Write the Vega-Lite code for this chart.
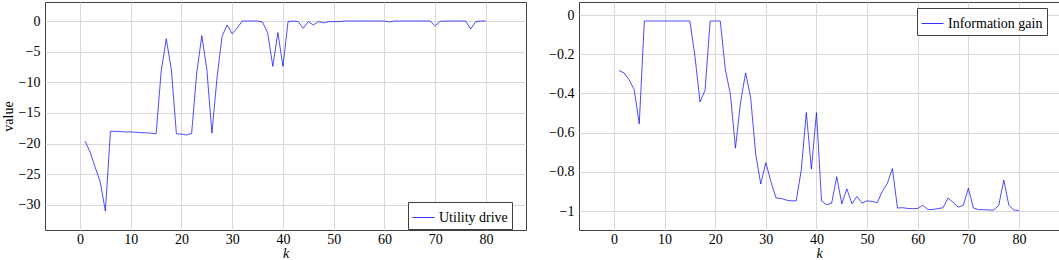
{
  "$schema": "https://vega.github.io/schema/vega-lite/v6.json",
  "padding": {"left": 0, "top": 1, "right": 1, "bottom": 0},
  "datasets": {
    "utility": [
      {"k":1,"value":-19.6},{"k":2,"value":-21.4},{"k":3,"value":-23.9},{"k":4,"value":-26.3},{"k":5,"value":-31.0},
      {"k":6,"value":-18.0},{"k":7,"value":-18.0},{"k":8,"value":-18.05},{"k":9,"value":-18.1},{"k":10,"value":-18.1},
      {"k":11,"value":-18.15},{"k":12,"value":-18.2},{"k":13,"value":-18.25},{"k":14,"value":-18.3},{"k":15,"value":-18.4},
      {"k":16,"value":-8.2},{"k":17,"value":-2.9},{"k":18,"value":-7.9},{"k":19,"value":-18.4},{"k":20,"value":-18.45},
      {"k":21,"value":-18.6},{"k":22,"value":-18.35},{"k":23,"value":-8.5},{"k":24,"value":-2.4},{"k":25,"value":-7.9},
      {"k":26,"value":-18.3},{"k":27,"value":-9.3},{"k":28,"value":-2.5},{"k":29,"value":-0.65},{"k":30,"value":-2.1},
      {"k":31,"value":-1.1},{"k":32,"value":0},{"k":33,"value":0},{"k":34,"value":0},{"k":35,"value":0},
      {"k":36,"value":-0.2},{"k":37,"value":-2.0},{"k":38,"value":-7.4},{"k":39,"value":-1.9},{"k":40,"value":-7.4},
      {"k":41,"value":-0.1},{"k":42,"value":0},{"k":43,"value":-0.1},{"k":44,"value":-1.2},{"k":45,"value":-0.1},
      {"k":46,"value":-0.65},{"k":47,"value":-0.1},{"k":48,"value":-0.3},{"k":49,"value":-0.1},{"k":50,"value":-0.1},
      {"k":51,"value":-0.1},{"k":52,"value":0},{"k":53,"value":0},{"k":54,"value":0},{"k":55,"value":0},
      {"k":56,"value":0},{"k":57,"value":0},{"k":58,"value":0},{"k":59,"value":0},{"k":60,"value":0},
      {"k":61,"value":-0.15},{"k":62,"value":0},{"k":63,"value":0},{"k":64,"value":0},{"k":65,"value":0},
      {"k":66,"value":0},{"k":67,"value":0},{"k":68,"value":0},{"k":69,"value":0},{"k":70,"value":-0.8},
      {"k":71,"value":-0.05},{"k":72,"value":0},{"k":73,"value":0},{"k":74,"value":0},{"k":75,"value":0},
      {"k":76,"value":0},{"k":77,"value":-1.3},{"k":78,"value":-0.1},{"k":79,"value":0},{"k":80,"value":0}
    ],
    "info": [
      {"k":1,"value":-0.283},{"k":2,"value":-0.295},{"k":3,"value":-0.33},{"k":4,"value":-0.38},{"k":5,"value":-0.555},
      {"k":6,"value":-0.03},{"k":7,"value":-0.03},{"k":8,"value":-0.03},{"k":9,"value":-0.03},{"k":10,"value":-0.03},
      {"k":11,"value":-0.03},{"k":12,"value":-0.03},{"k":13,"value":-0.03},{"k":14,"value":-0.03},{"k":15,"value":-0.03},
      {"k":16,"value":-0.21},{"k":17,"value":-0.443},{"k":18,"value":-0.384},{"k":19,"value":-0.03},{"k":20,"value":-0.03},
      {"k":21,"value":-0.03},{"k":22,"value":-0.278},{"k":23,"value":-0.404},{"k":24,"value":-0.679},{"k":25,"value":-0.446},
      {"k":26,"value":-0.295},{"k":27,"value":-0.421},{"k":28,"value":-0.711},{"k":29,"value":-0.862},{"k":30,"value":-0.753},
      {"k":31,"value":-0.85},{"k":32,"value":-0.933},{"k":33,"value":-0.936},{"k":34,"value":-0.944},{"k":35,"value":-0.948},
      {"k":36,"value":-0.948},{"k":37,"value":-0.79},{"k":38,"value":-0.497},{"k":39,"value":-0.786},{"k":40,"value":-0.498},
      {"k":41,"value":-0.948},{"k":42,"value":-0.968},{"k":43,"value":-0.96},{"k":44,"value":-0.825},{"k":45,"value":-0.963},
      {"k":46,"value":-0.887},{"k":47,"value":-0.963},{"k":48,"value":-0.926},{"k":49,"value":-0.96},{"k":50,"value":-0.948},
      {"k":51,"value":-0.951},{"k":52,"value":-0.958},{"k":53,"value":-0.9},{"k":54,"value":-0.859},{"k":55,"value":-0.783},
      {"k":56,"value":-0.985},{"k":57,"value":-0.983},{"k":58,"value":-0.987},{"k":59,"value":-0.988},{"k":60,"value":-0.987},
      {"k":61,"value":-0.971},{"k":62,"value":-0.993},{"k":63,"value":-0.992},{"k":64,"value":-0.988},{"k":65,"value":-0.983},
      {"k":66,"value":-0.934},{"k":67,"value":-0.956},{"k":68,"value":-0.98},{"k":69,"value":-0.971},{"k":70,"value":-0.884},
      {"k":71,"value":-0.985},{"k":72,"value":-0.993},{"k":73,"value":-0.993},{"k":74,"value":-0.995},{"k":75,"value":-0.995},
      {"k":76,"value":-0.971},{"k":77,"value":-0.842},{"k":78,"value":-0.971},{"k":79,"value":-0.995},{"k":80,"value":-0.998}
    ]
  },
  "hconcat": [
    {
      "data": {"name": "utility"},
      "width": 481,
      "height": 228,
      "mark": {"type": "line", "strokeWidth": 0.7, "clip": true},
      "encoding": {
        "x": {"field": "k", "type": "quantitative",
              "scale": {"domain": [-6.9, 87.9], "nice": false, "zero": false},
              "axis": {"values": [0,10,20,30,40,50,60,70,80], "title": "k", "titleFontStyle": "italic", "format": "~f"}},
        "y": {"field": "value", "type": "quantitative",
              "scale": {"domain": [-34.1, 3.1], "nice": false, "zero": false},
              "axis": {"values": [-30,-25,-20,-15,-10,-5,0], "title": "value", "format": "~f"}},
        "color": {"datum": "Utility drive", "type": "nominal",
                  "scale": {"range": ["#0000ff"]},
                  "legend": {"title": null, "orient": "none", "legendX": 363, "legendY": 200}}
      }
    },
    {
      "data": {"name": "info"},
      "width": 480,
      "height": 228,
      "mark": {"type": "line", "strokeWidth": 0.7, "clip": true},
      "encoding": {
        "x": {"field": "k", "type": "quantitative",
              "scale": {"domain": [-6.9, 87.9], "nice": false, "zero": false},
              "axis": {"values": [0,10,20,30,40,50,60,70,80], "title": "k", "titleFontStyle": "italic", "format": "~f"}},
        "y": {"field": "value", "type": "quantitative",
              "scale": {"domain": [-1.097, 0.067], "nice": false, "zero": false},
              "axis": {"values": [-1,-0.8,-0.6,-0.4,-0.2,0], "title": null, "format": "~f"}},
        "color": {"datum": "Information gain", "type": "nominal",
                  "scale": {"range": ["#0000ff"]},
                  "legend": {"title": null, "orient": "none", "legendX": 338, "legendY": 6}}
      }
    }
  ],
  "spacing": 53,
  "bounds": "flush",
  "resolve": {"scale": {"color": "independent"}, "legend": {"color": "independent"}},
  "config": {
    "font": "Liberation Serif",
    "view": {"stroke": "#404040", "strokeWidth": 1},
    "axis": {
      "domain": false, "ticks": false, "grid": true,
      "gridColor": "#d9d9d9", "gridWidth": 1,
      "labelFont": "Liberation Serif", "labelFontSize": 14, "labelColor": "black",
      "titleFont": "Liberation Serif", "titleFontSize": 14, "titleFontWeight": "normal", "titleColor": "black"
    },
    "axisX": {"labelPadding": 2, "titlePadding": 0},
    "axisY": {"labelPadding": 5, "titlePadding": 3},
    "legend": {
      "strokeColor": "#404040", "fillColor": "white", "padding": 4,
      "symbolType": "stroke", "symbolSize": 484, "symbolStrokeWidth": 0.8,
      "labelFont": "Liberation Serif", "labelFontSize": 14, "labelColor": "black",
      "labelOffset": 4, "cornerRadius": 0
    }
  }
}
